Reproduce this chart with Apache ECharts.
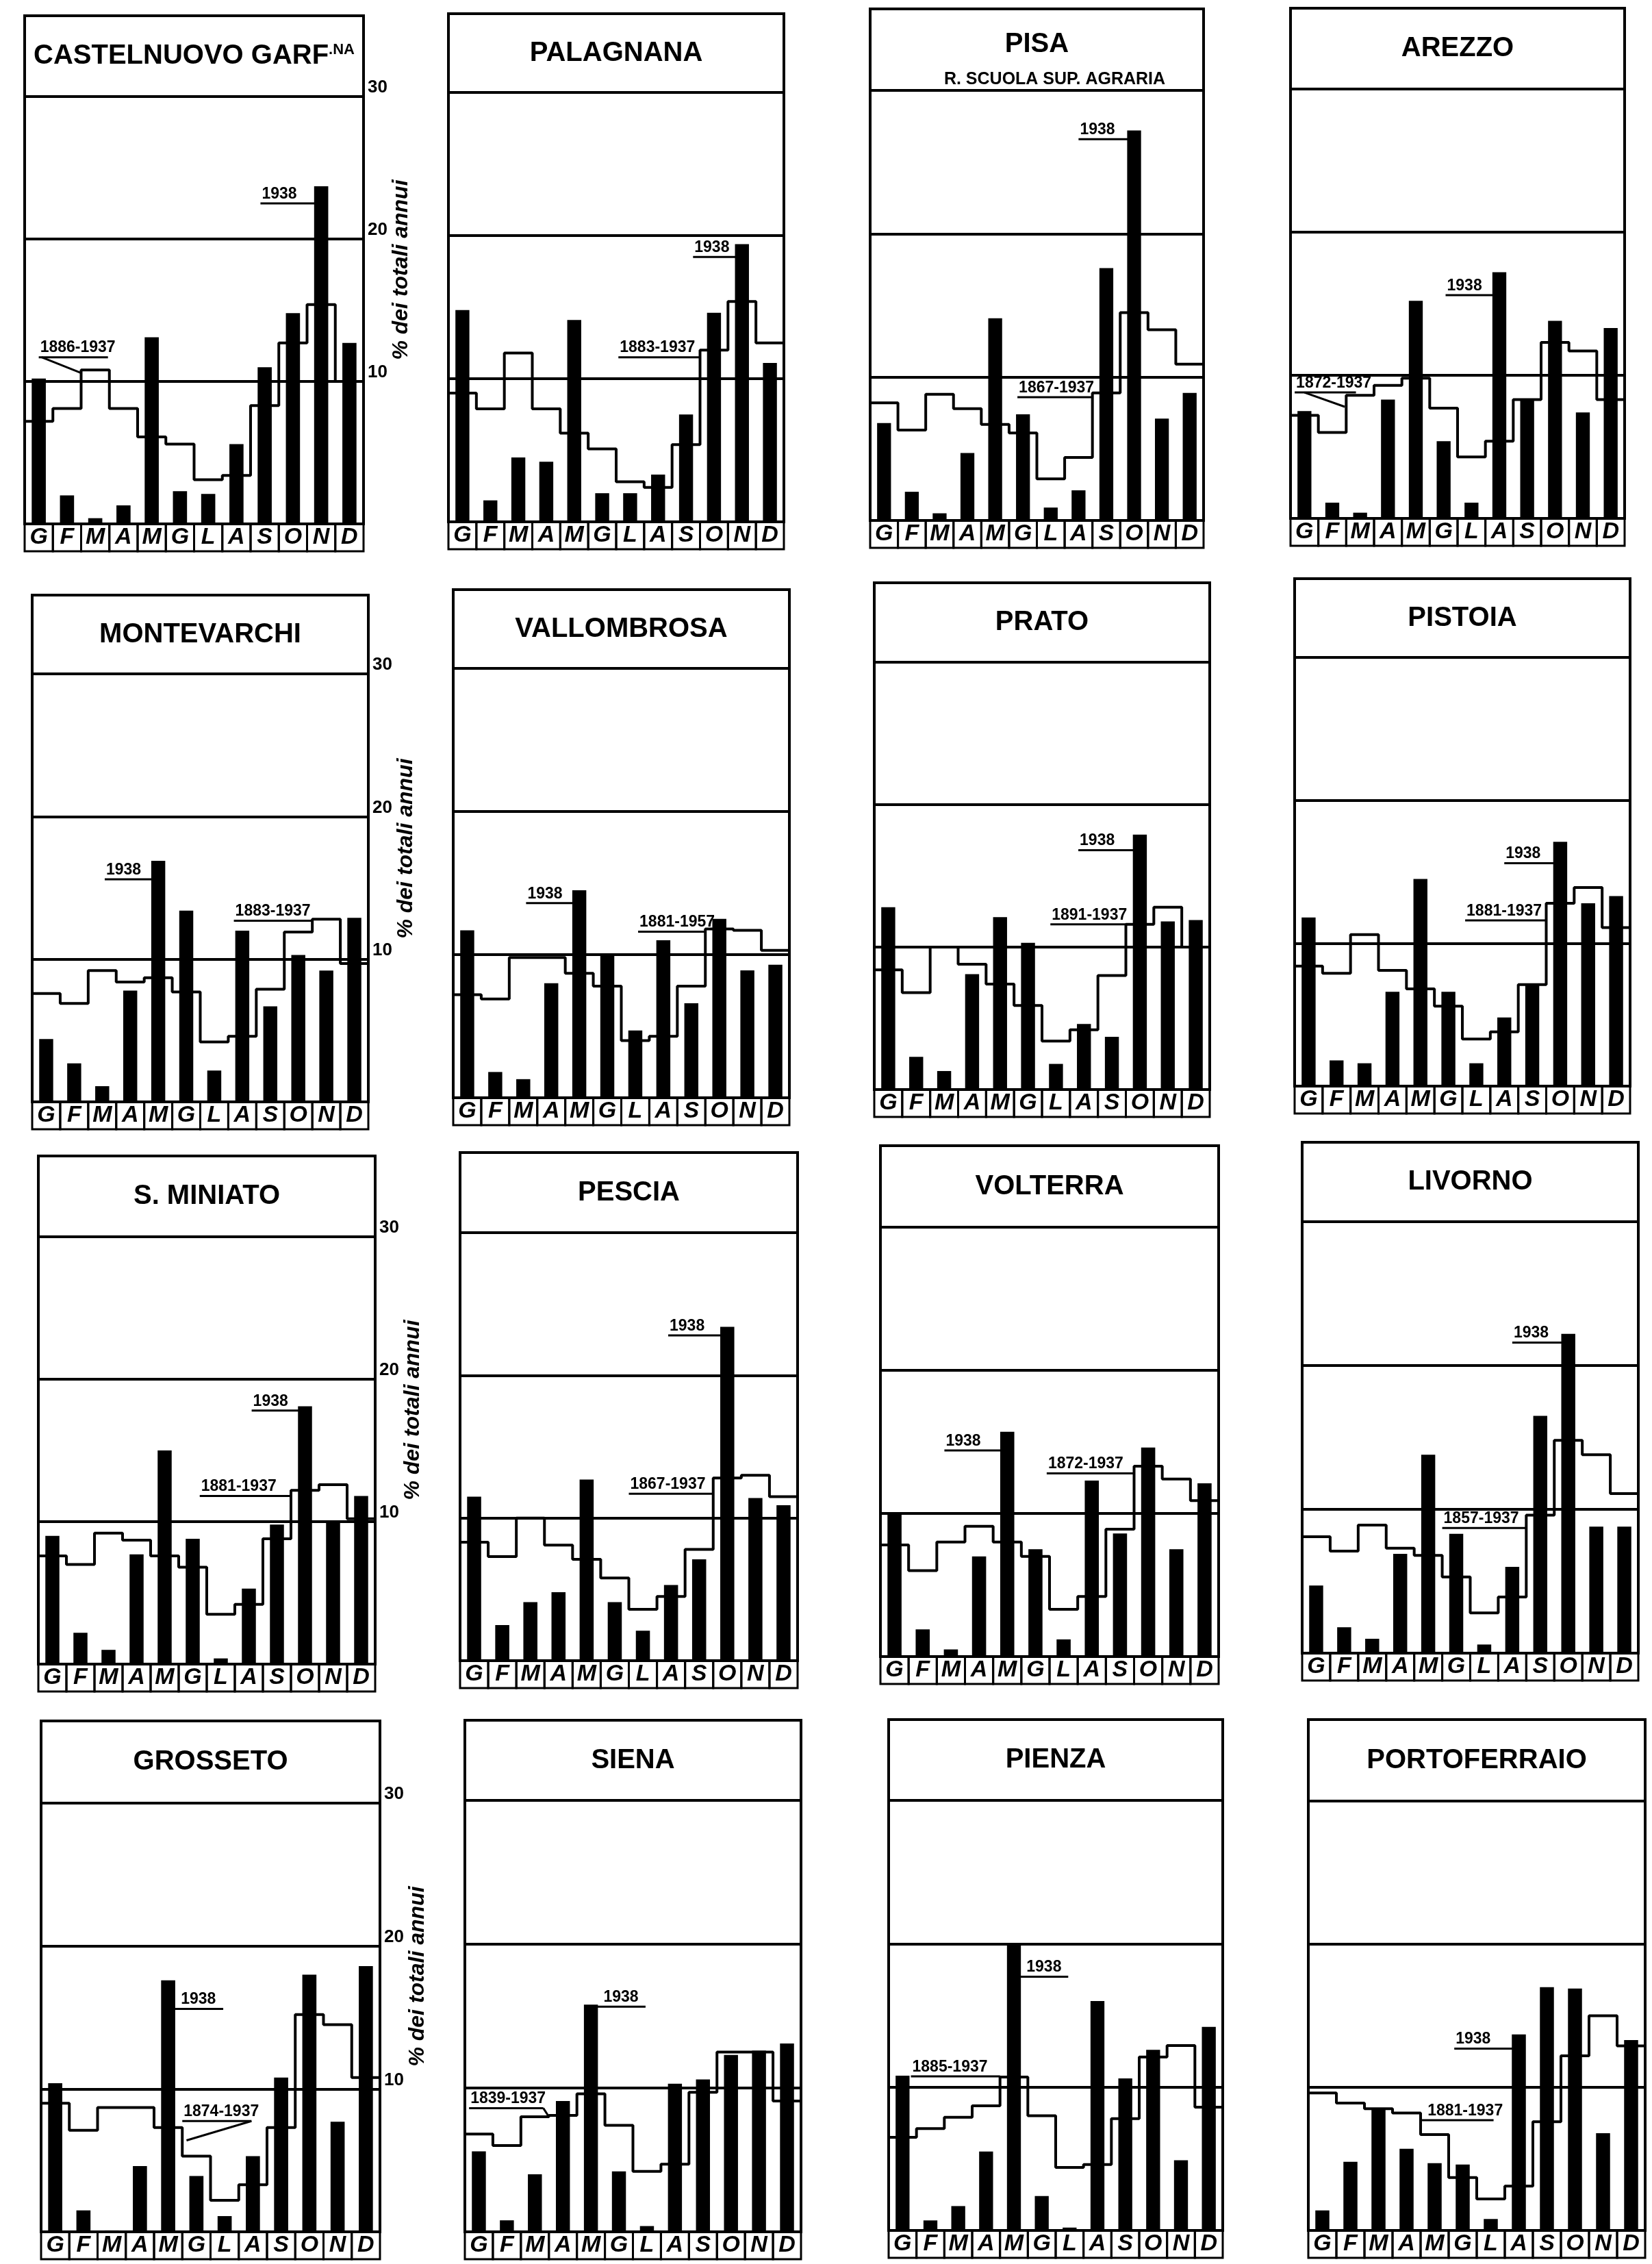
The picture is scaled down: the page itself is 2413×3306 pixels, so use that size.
<!DOCTYPE html>
<html><head><meta charset="utf-8">
<script src="https://cdn.jsdelivr.net/npm/echarts@6/dist/echarts.min.js"></script>
<style>html,body{margin:0;padding:0;background:#fff}#c{width:2413px;height:3306px}</style>
</head><body><div id="c"></div>
<script>
// ---------- DATA ----------
const months = ['G','F','M','A','M','G','L','A','S','O','N','D'];
const stations = ['CASTELNUOVO GARF','PALAGNANA','PISA','AREZZO','MONTEVARCHI','VALLOMBROSA','PRATO','PISTOIA',
  'S. MINIATO','PESCIA','VOLTERRA','LIVORNO','GROSSETO','SIENA','PIENZA','PORTOFERRAIO'];
const periods = ['1886-1937','1883-1937','1867-1937','1872-1937','1883-1937','1881-1957','1891-1937','1881-1937',
  '1881-1937','1867-1937','1872-1937','1857-1937','1874-1937','1839-1937','1885-1937','1881-1937'];
const yearLabel = '1938';
const yTicks = [10, 20, 30];

const castelnuovo1938 = [10.2, 2.0, 0.4, 1.3, 13.1, 2.3, 2.1, 5.6, 11.0, 14.8, 23.7, 12.7];
const castelnuovoAvg  = [7.2, 8.1, 10.8, 8.1, 6.1, 5.6, 3.1, 3.4, 8.3, 12.7, 15.4, 10.0];
const palagnana1938   = [14.8, 1.5, 4.5, 4.2, 14.1, 2.0, 2.0, 3.3, 7.5, 14.6, 19.4, 11.1];
const palagnanaAvg    = [9.0, 7.9, 11.8, 7.9, 6.2, 5.1, 2.8, 2.4, 5.4, 12.0, 15.4, 12.5];
const pisa1938        = [6.8, 2.0, 0.5, 4.7, 14.1, 7.4, 0.9, 2.1, 17.6, 27.2, 7.1, 8.9];
const pisaAvg         = [8.2, 6.3, 8.8, 7.8, 6.7, 6.1, 2.9, 4.4, 8.9, 14.5, 13.3, 10.9];
const arezzo1938      = [7.5, 1.1, 0.4, 8.3, 15.2, 5.4, 1.1, 17.2, 8.3, 13.8, 7.4, 13.3];
const arezzoAvg       = [7.2, 6.0, 8.6, 9.3, 9.8, 7.7, 4.3, 5.4, 8.3, 12.3, 11.7, 8.3];
const montevarchi1938 = [4.4, 2.7, 1.1, 7.8, 16.9, 13.4, 2.2, 12.0, 6.7, 10.3, 9.2, 12.9];
const montevarchiAvg  = [7.6, 6.9, 9.2, 8.4, 8.7, 7.7, 4.2, 4.6, 7.9, 11.9, 12.8, 9.7];
const vallombrosa1938 = [11.7, 1.8, 1.3, 8.0, 14.5, 10.1, 4.7, 11.0, 6.6, 12.5, 8.9, 9.3];
const vallombrosaAvg  = [7.2, 6.9, 9.8, 9.8, 8.7, 7.8, 4.0, 4.3, 7.8, 11.8, 11.7, 10.3];
const prato1938       = [12.8, 2.3, 1.3, 8.1, 12.1, 10.3, 1.8, 4.6, 3.7, 17.9, 11.8, 11.9];
const pratoAvg        = [8.4, 6.8, 10.0, 8.8, 7.4, 5.9, 3.4, 4.2, 8.0, 11.6, 12.8, 10.0];
const pistoia1938     = [11.8, 1.8, 1.6, 6.6, 14.5, 6.6, 1.6, 4.8, 7.1, 17.1, 12.8, 13.3];
const pistoiaAvg      = [8.4, 7.9, 10.6, 8.1, 6.8, 5.6, 3.3, 3.8, 7.1, 12.8, 13.9, 11.1];
const sminiato1938    = [9.0, 2.2, 1.0, 7.7, 15.0, 8.8, 0.4, 5.3, 9.8, 18.1, 10.0, 11.8];
const sminiatoAvg     = [7.6, 7.0, 9.2, 8.7, 7.6, 6.8, 3.5, 4.2, 8.8, 12.2, 12.6, 10.2];
const pescia1938      = [11.5, 2.5, 4.1, 4.8, 12.7, 4.1, 2.1, 5.3, 7.1, 23.4, 11.4, 10.9];
const pesciaAvg       = [8.3, 7.3, 10.0, 8.1, 7.1, 5.8, 3.6, 4.5, 7.8, 12.8, 13.0, 11.5];
const volterra1938    = [10.0, 1.9, 0.5, 7.0, 15.7, 7.5, 1.2, 12.3, 8.6, 14.6, 7.5, 12.1];
const volterraAvg     = [7.8, 6.0, 8.0, 9.1, 8.0, 7.0, 3.3, 4.2, 8.9, 13.3, 12.4, 10.9];
const livorno1938     = [4.7, 1.8, 1.0, 6.9, 13.8, 8.3, 0.6, 6.0, 16.5, 22.2, 8.8, 8.8];
const livornoAvg      = [8.1, 7.1, 8.9, 7.3, 6.8, 5.3, 2.8, 3.9, 9.6, 14.8, 13.8, 11.1];
const grosseto1938    = [10.4, 1.5, 0.1, 4.6, 17.6, 3.9, 1.1, 5.3, 10.8, 18.0, 7.7, 18.6];
const grossetoAvg     = [9.0, 7.1, 8.7, 8.7, 7.3, 5.3, 2.2, 3.3, 7.3, 15.2, 14.5, 10.8];
const siena1938       = [5.6, 0.8, 4.0, 9.1, 15.8, 4.2, 0.4, 10.3, 10.6, 12.3, 12.6, 13.1];
const sienaAvg        = [6.8, 6.0, 8.0, 8.1, 9.6, 7.4, 4.2, 4.7, 9.7, 12.5, 12.5, 9.1];
const pienza1938      = [10.8, 0.7, 1.7, 5.5, 20.0, 2.4, 0.2, 16.0, 10.6, 12.6, 4.9, 14.2];
const pienzaAvg       = [6.5, 7.1, 7.9, 8.7, 10.7, 8.0, 4.4, 4.6, 7.8, 12.1, 12.9, 8.6];
const portoferraio1938= [1.4, 4.8, 8.5, 5.7, 4.7, 4.6, 0.8, 13.7, 17.0, 16.9, 6.8, 13.3];
const portoferraioAvg = [9.6, 8.9, 8.5, 8.2, 6.7, 3.7, 2.2, 3.1, 7.6, 12.2, 15.0, 12.9];

const bars = [castelnuovo1938, palagnana1938, pisa1938, arezzo1938, montevarchi1938, vallombrosa1938, prato1938, pistoia1938,
  sminiato1938, pescia1938, volterra1938, livorno1938, grosseto1938, siena1938, pienza1938, portoferraio1938];
const avgs = [castelnuovoAvg, palagnanaAvg, pisaAvg, arezzoAvg, montevarchiAvg, vallombrosaAvg, pratoAvg, pistoiaAvg,
  sminiatoAvg, pesciaAvg, volterraAvg, livornoAvg, grossetoAvg, sienaAvg, pienzaAvg, portoferraioAvg];

// ---------- LAYOUT (pixels) ----------
// left, right, top, line of 30 %, zero line
const panelBox = [
  [36,531,23,141,765],[655,1145,20,135,762],[1271,1758,13,132,760],[1885,2373,12,130,757],
  [47,538,869,984,1609],[662,1153,861,976,1603],[1277,1767,851,967,1591],[1891,2381,845,960,1586],
  [56,548,1688,1806,2430],[672,1165,1683,1800,2425],[1286,1780,1673,1792,2419],[1902,2393,1668,1784,2414],
  [60,555,2513,2633,3259],[679,1170,2512,2629,3259],[1298,1786,2511,2629,3257],[1911,2403,2511,2630,3257]];
// annotation placement in month units / % units: [textX, underlineY, underlineFrom, underlineTo, leader?]
const ann1938 = [[8.35,22.5,8.35,10.27],[8.75,18.5,8.75,10.27],[7.5,26.6,7.5,9.27],[5.57,15.6,5.57,7.27],
  [2.59,15.6,2.59,4.27],[2.6,13.6,2.6,4.27],[7.3,16.8,7.3,9.27],[7.5,15.6,7.5,9.27],
  [7.6,17.8,7.6,9.27],[7.4,22.8,7.4,9.27],[2.27,14.4,2.27,4.27],[7.5,21.6,7.5,9.27],
  [4.9,15.6,4.73,6.45],[4.9,15.65,4.73,6.45],[4.9,17.7,4.73,6.45],[5.2,12.7,5.2,7.27]];
const annPeriod = [[0.5,11.7,0.5,2.95,[0.6,11.7,2.0,10.6]],[6.08,11.5,6.08,9.0],[5.3,8.6,5.3,8.0],[0.15,8.8,0.15,2.35,[0.5,8.8,1.95,7.8]],
  [7.2,12.7,7.2,10.0],[6.6,11.6,6.6,9.0],[6.3,11.6,6.3,9.0],[6.1,11.6,6.1,9.0],
  [5.75,11.8,5.75,9.0],[6.0,11.7,6.0,9.0],[5.9,12.8,5.9,9.0],[5.0,8.7,5.0,8.0],
  [5.0,7.75,5.0,7.45,[7.45,7.75,5.15,6.4]],[0.15,8.6,0.15,2.8,[2.8,8.6,3.0,8.0]],[0.8,10.75,0.8,4.0],[4.2,7.7,4.05,6.6]];

const FONT = '"Liberation Sans", "DejaVu Sans", sans-serif';
const chart = echarts.init(document.getElementById('c'), null, {renderer:'canvas', width:2413, height:3306});
const grid=[], xAxis=[], yAxis=[], series=[], graphic=[];

stations.forEach((name, i) => {
  const [L, R, T, L30, Z] = panelBox[i];
  const ymax = 30 * (Z - T) / (Z - L30);
  const bw = (R - L) / 12;
  const firstCol = i % 4 === 0;
  grid.push({left:L, top:T, width:R-L, height:Z-T, show:true, borderColor:'#000', borderWidth:4, backgroundColor:'transparent'});
  xAxis.push({type:'category', gridIndex:i, data:months, boundaryGap:true,
    axisLine:{show:true, lineStyle:{color:'#000', width:4}}, axisTick:{show:false}, splitLine:{show:false},
    axisLabel:{interval:0, margin:0, color:'#000', fontFamily:FONT, fontStyle:'italic', fontWeight:'bold', fontSize:34,
      width:bw, height:40, lineHeight:40, align:'center', verticalAlign:'top', borderColor:'#000', borderWidth:3}});
  xAxis.push({type:'value', gridIndex:i, min:0, max:12, show:false});
  yAxis.push({type:'value', gridIndex:i, min:0, max:ymax, interval:10, position:'right',
    axisLine:{show:false}, axisTick:{show:false},
    splitLine:{show:true, lineStyle:{color:'#000', width:4}},
    axisLabel:{show:firstCol, margin:6, color:'#000', fontFamily:FONT, fontWeight:'bold', fontSize:26, verticalAlign:'bottom',
      formatter: v => yTicks.indexOf(Math.round(v)) >= 0 && Math.abs(v - Math.round(v)) < 1e-6 ? String(Math.round(v)) : ''},
    name: firstCol ? '% dei totali annui' : '', nameLocation:'middle', nameRotate:90, nameGap:34,
    nameTextStyle:{color:'#000', fontFamily:FONT, fontStyle:'italic', fontWeight:'bold', fontSize:32}});
  series.push({type:'bar', xAxisIndex:2*i, yAxisIndex:i, data:bars[i], barWidth:'50%', itemStyle:{color:'#000'}, silent:true, z:2});
  const av = avgs[i];
  const stepPts = [];
  av.forEach((v, m) => { stepPts.push([m, v]); stepPts.push([m + 1, v]); });
  series.push({type:'line', xAxisIndex:2*i+1, yAxisIndex:i, data:stepPts, symbol:'none', silent:true,
    lineStyle:{color:'#000', width:4}, z:3});
  const anns = [{a:ann1938[i], t:yearLabel}, {a:annPeriod[i], t:periods[i]}];
  series.push({type:'custom', xAxisIndex:2*i+1, yAxisIndex:i, clip:false, silent:true, z:4,
    data: anns.map(o => [o.a[0], o.a[1]]),
    renderItem: (params, api) => {
      const o = anns[params.dataIndex];
      const a = o.a;
      const pT = api.coord([a[0], a[1]]);
      const p0 = api.coord([a[2], a[1]]);
      const p1 = api.coord([a[3], a[1]]);
      const ch = [
        {type:'line', shape:{x1:p0[0], y1:p0[1], x2:p1[0], y2:p1[1]}, style:{stroke:'#000', lineWidth:3}},
        {type:'text', x:pT[0] + 2, y:pT[1] - 2, style:{text:o.t, fill:'#000', fontFamily:FONT, fontWeight:'bold', fontSize:23,
          align:'left', verticalAlign:'bottom'}}
      ];
      if (a[4]) {
        const q0 = api.coord([a[4][0], a[4][1]]), q1 = api.coord([a[4][2], a[4][3]]);
        ch.push({type:'line', shape:{x1:q0[0], y1:q0[1], x2:q1[0], y2:q1[1]}, style:{stroke:'#000', lineWidth:3}});
      }
      return {type:'group', children:ch};
    }});
  // station title
  const cx = (L + R) / 2, cy = (T + L30) / 2;
  if (i === 0) {
    graphic.push({type:'text', x:cx, y:cy, silent:true, style:{text:name + '{s|.NA}', fill:'#000', fontFamily:FONT, fontWeight:'bold',
      fontSize:40, align:'center', verticalAlign:'middle', rich:{s:{fontFamily:FONT, fontWeight:'bold', fontSize:22, verticalAlign:'top', fill:'#000'}}}});
  } else if (i === 2) {
    graphic.push({type:'text', x:cx, y:cy - 8, silent:true, style:{text:name, fill:'#000', fontFamily:FONT, fontWeight:'bold', fontSize:40, align:'center', verticalAlign:'middle'}});
    graphic.push({type:'text', x:cx + 26, y:L30 - 3, silent:true, style:{text:'R. SCUOLA SUP. AGRARIA', fill:'#000', fontFamily:FONT, fontWeight:'bold', fontSize:25, align:'center', verticalAlign:'bottom'}});
  } else {
    graphic.push({type:'text', x:cx, y:cy, silent:true, style:{text:name, fill:'#000', fontFamily:FONT, fontWeight:'bold', fontSize:40, align:'center', verticalAlign:'middle'}});
  }
});

chart.setOption({animation:false, backgroundColor:'#fff', grid, xAxis, yAxis, series, graphic});
</script></body></html>
